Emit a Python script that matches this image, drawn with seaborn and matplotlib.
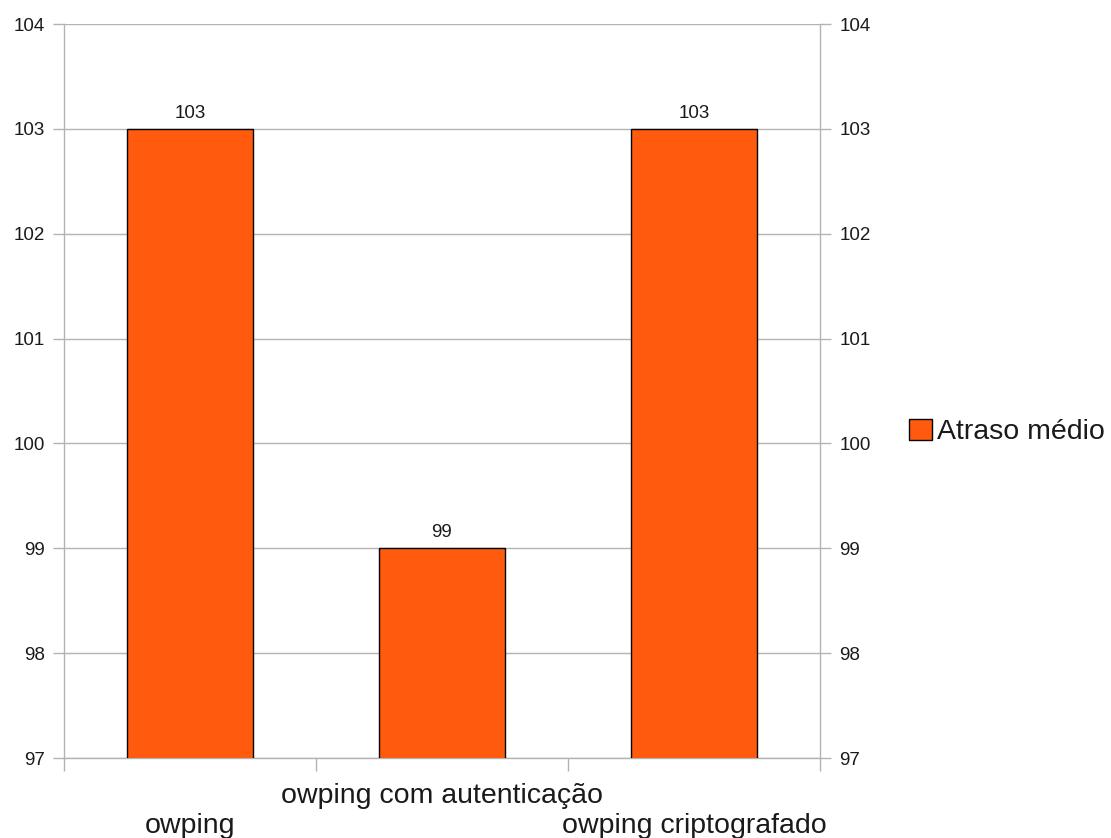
import matplotlib
matplotlib.use("Agg")
import matplotlib.pyplot as plt
import seaborn as sns
import numpy as np

# Data
categories = ["owping", "owping com autenticação", "owping criptografado"]
values = [103, 99, 103]
series_name = "Atraso médio"
y_ticks = [97, 98, 99, 100, 101, 102, 103, 104]

sns.set_theme(style="white")
plt.rcParams["font.family"] = ["Liberation Sans", "DejaVu Sans"]

bar_color = "#ff5a0e"
grid_color = "#b3b3b3"
text_color = "#1a1a1a"

fig = plt.figure(figsize=(11.11, 8.38), dpi=100)
ax = fig.add_axes([64 / 1111, 1 - 758 / 838, (820 - 64) / 1111, (758 - 24) / 838])

sns.barplot(x=categories, y=values, color=bar_color, width=0.5,
            edgecolor="black", linewidth=1.0, saturation=1, ax=ax,
            label=series_name, zorder=3)

ax.set_ylim(97, 104)
ax.set_xlim(-0.5, 2.5)
ax.set_yticks(y_ticks)
ax.set_yticklabels([str(t) for t in y_ticks])
ax.yaxis.grid(True, color=grid_color, linewidth=1.0, zorder=0)
ax.set_axisbelow(True)

for side in ["left", "right", "bottom"]:
    ax.spines[side].set_visible(True)
    ax.spines[side].set_color(grid_color)
    ax.spines[side].set_linewidth(1.0)
ax.spines["top"].set_visible(False)

# y ticks on both sides
ax.tick_params(axis="y", which="major", left=True, right=True,
               labelleft=True, labelright=True, direction="out",
               length=8, width=1.0, color=grid_color,
               labelsize=13.5, labelcolor=text_color, pad=6)

# category labels at the bar centres, staggered in two rows
ax.set_xticks(range(len(categories)))
ax.set_xticklabels(categories)
ax.tick_params(axis="x", which="major", length=0, labelsize=20.5,
               labelcolor=text_color)
ax.set_xlabel("")
ax.set_ylabel("")
pads = [39.5, 18, 39.5]
for tick, p in zip(ax.xaxis.get_major_ticks(), pads):
    tick.set_pad(p)

# tick marks at category boundaries
ax.set_xticks(np.arange(-0.5, len(categories), 1.0), minor=True)
ax.tick_params(axis="x", which="minor", bottom=True, direction="out",
               length=9, width=1.0, color=grid_color)

# value labels
for cont in ax.containers:
    ax.bar_label(cont, fmt="%d", padding=5, fontsize=13.5, color=text_color)

# legend
if ax.get_legend():
    ax.get_legend().remove()
handles, labels = ax.get_legend_handles_labels()
fig.legend(handles, labels, loc="center left",
           bbox_to_anchor=(909 / 1111, 1 - 432 / 838),
           frameon=False, fontsize=20.5, handlelength=0.8,
           handleheight=0.8, handletextpad=0.2, borderpad=0,
           borderaxespad=0, labelcolor=text_color)

fig.savefig("out.png", dpi=100, facecolor="white")
